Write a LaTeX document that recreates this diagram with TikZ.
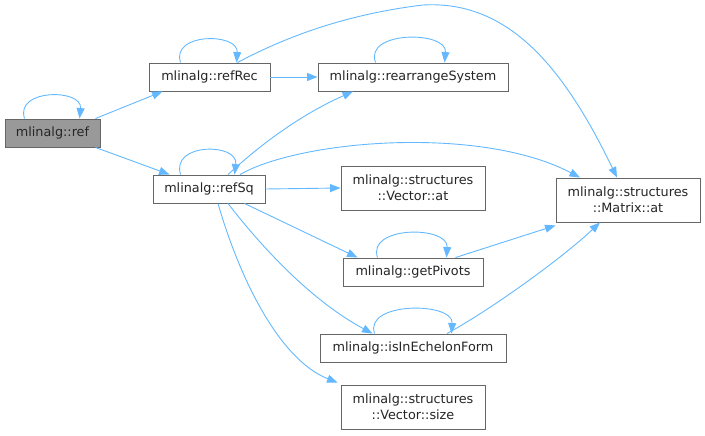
\documentclass[tikz,border=0pt]{standalone}
\usepackage{fontspec}
\setmainfont{DejaVu Sans}
\usetikzlibrary{arrows.meta}
\definecolor{edgeblue}{HTML}{63B8FF}
\definecolor{boxline}{HTML}{666666}
\definecolor{boxgray}{HTML}{999999}
\tikzset{
  fn/.style={draw=boxline, fill=white, line width=0.9pt, inner sep=0pt, align=center,
    font=\fontsize{12.8}{16}\selectfont, text=black!85},
  cur/.style={fn, fill=boxgray},
  edge/.style={draw=edgeblue, line width=0.9pt, -{Triangle[length=10.5pt,width=8pt]}}
}
\begin{document}
\begin{tikzpicture}[x=1pt,y=-1pt]
\useasboundingbox (0,0) rectangle (705,436);
% nodes
\node[cur, minimum width=95pt, minimum height=28pt] (ref) at (52.5,133) {mlinalg::ref};
\node[fn, minimum width=121pt, minimum height=28pt] (refRec) at (209.5,77) {mlinalg::refRec};
\node[fn, minimum width=190pt, minimum height=28pt] (rearr) at (413,77) {mlinalg::rearrangeSystem};
\node[fn, minimum width=112pt, minimum height=28pt] (refSq) at (209,189) {mlinalg::refSq};
\node[fn, minimum width=144pt, minimum height=44pt] (vat) at (413,188) {mlinalg::structures\\::Vector::at};
\node[fn, minimum width=144pt, minimum height=44pt] (mat) at (628,200) {mlinalg::structures\\::Matrix::at};
\node[fn, minimum width=140pt, minimum height=28pt] (getP) at (413,272) {mlinalg::getPivots};
\node[fn, minimum width=186pt, minimum height=28pt] (isIn) at (413,348) {mlinalg::isInEchelonForm};
\node[fn, minimum width=144pt, minimum height=44pt] (vsize) at (413,407) {mlinalg::structures\\::Vector::size};
% self loops
\draw[edge] ([xshift=20pt]ref.north west) .. controls ([xshift=10pt,yshift=30pt]ref.north west) and ([xshift=78pt,yshift=30pt]ref.north west) .. ([xshift=75pt]ref.north west);
\draw[edge] ([xshift=32pt]refRec.north west) .. controls ([xshift=22pt,yshift=30pt]refRec.north west) and ([xshift=90pt,yshift=30pt]refRec.north west) .. ([xshift=88pt]refRec.north west);
\draw[edge] ([xshift=58pt]rearr.north west) .. controls ([xshift=46pt,yshift=32pt]rearr.north west) and ([xshift=130pt,yshift=32pt]rearr.north west) .. ([xshift=127pt]rearr.north west);
\draw[edge] ([xshift=28pt]refSq.north west) .. controls ([xshift=18pt,yshift=32pt]refSq.north west) and ([xshift=86pt,yshift=32pt]refSq.north west) .. ([xshift=82pt]refSq.north west);
\draw[edge] ([xshift=35pt]getP.north west) .. controls ([xshift=24pt,yshift=32pt]getP.north west) and ([xshift=106pt,yshift=32pt]getP.north west) .. ([xshift=104pt]getP.north west);
\draw[edge] ([xshift=55pt]isIn.north west) .. controls ([xshift=44pt,yshift=32pt]isIn.north west) and ([xshift=134pt,yshift=32pt]isIn.north west) .. ([xshift=132pt]isIn.north west);
% edges
\draw[edge] ([xshift=-5pt]ref.north east) -- ([xshift=14pt]refRec.south west);
\draw[edge] ([xshift=-5pt]ref.south east) -- ([xshift=17pt]refSq.north west);
\draw[edge] (refRec.east) -- (rearr.west);
\draw[edge] ([xshift=-33pt]refRec.north east) .. controls (280,40) and (340,15) .. (423,5) .. controls (510,0) and (565,70) .. ([xshift=-11pt]mat.north);
\draw[edge] ([xshift=19pt]refSq.north) .. controls (260,145) and (300,115) .. ([xshift=-60pt]rearr.south);
\draw[edge] ([xshift=31pt]refSq.north) .. controls (300,140) and (480,125) .. ([xshift=-48pt]mat.north);
\draw[edge] (refSq.east) -- (vat.west);
\draw[edge] ([xshift=-21pt]refSq.south east) -- ([xshift=15pt]getP.north west);
\draw[edge] ([xshift=19pt]refSq.south) .. controls (260,245) and (310,300) .. ([xshift=53pt]isIn.north west);
\draw[edge] ([xshift=9pt]refSq.south) .. controls (240,280) and (280,360) .. ([xshift=-3pt,yshift=2pt]vsize.north west);
\draw[edge] ([xshift=-28pt]getP.north east) -- ([xshift=0pt,yshift=-3pt]mat.south west);
\draw[edge] ([xshift=34pt]isIn.north) .. controls (490,310) and (560,260) .. ([xshift=-28pt]mat.south);
\end{tikzpicture}
\end{document}
